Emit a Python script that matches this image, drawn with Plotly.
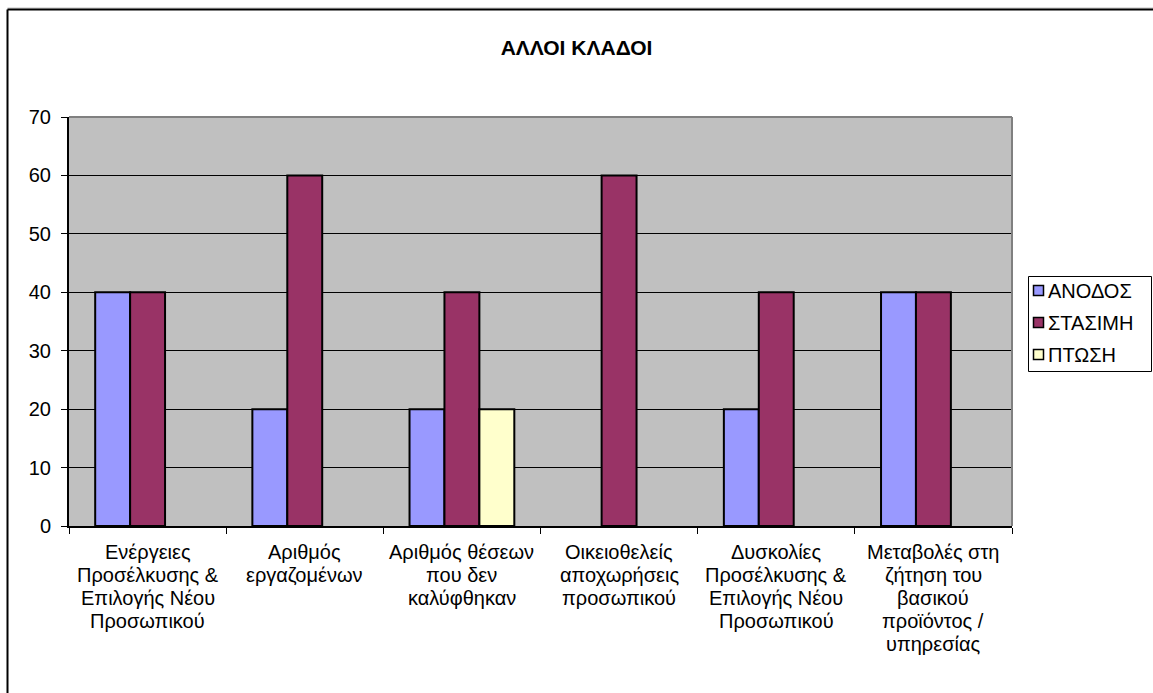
import plotly.graph_objects as go

# Categories (multi-line labels) and series values
categories = [
    "Ενέργειες<br>Προσέλκυσης &<br>Επιλογής Νέου<br>Προσωπικού",
    "Αριθμός<br>εργαζομένων",
    "Αριθμός θέσεων<br>που δεν<br>καλύφθηκαν",
    "Οικειοθελείς<br>αποχωρήσεις<br>προσωπικού",
    "Δυσκολίες<br>Προσέλκυσης &<br>Επιλογής Νέου<br>Προσωπικού",
    "Μεταβολές στη<br>ζήτηση του<br>βασικού<br>προϊόντος /<br>υπηρεσίας",
]
series_names = ["ΑΝΟΔΟΣ", "ΣΤΑΣΙΜΗ", "ΠΤΩΣΗ"]
anodos = [40, 20, 20, 0, 20, 40]
stasimi = [40, 60, 40, 60, 40, 40]
ptosi = [0, 0, 20, 0, 0, 0]
y_ticks = [0, 10, 20, 30, 40, 50, 60, 70]

colors = ["#9999FF", "#993366", "#FFFFCC"]
FONT = "Liberation Sans, Arial, sans-serif"
FS = 20

W, H = 1153, 693
ML, MR, MT, MB = 69, 141, 117, 167
PW, PH = W - ML - MR, H - MT - MB


def px_x(x):
    return (x - ML) / PW


def px_y(y):
    return (H - MB - y) / PH


fig = go.Figure()
for i, (name, vals) in enumerate(zip(series_names, [anodos, stasimi, ptosi])):
    # zero values leave an empty slot
    fig.add_trace(go.Bar(
        x=categories, y=[v if v else None for v in vals], name=name,
        marker=dict(color=colors[i], line=dict(color="black", width=2)),
        showlegend=False,
    ))

shapes = [
    # plot area top and right borders
    dict(type="line", xref="paper", yref="paper", x0=0, x1=1, y0=1, y1=1,
         line=dict(color="#808080", width=2)),
    dict(type="line", xref="paper", yref="paper", x0=1, x1=1, y0=0, y1=1,
         line=dict(color="#808080", width=2)),
    # chart frame
    dict(type="line", xref="paper", yref="paper",
         x0=px_x(7.5), x1=px_x(W + 5), y0=px_y(8), y1=px_y(8),
         line=dict(color="#C0C0C0", width=1)),
    dict(type="line", xref="paper", yref="paper",
         x0=px_x(7.5), x1=px_x(W + 5), y0=px_y(9.5), y1=px_y(9.5),
         line=dict(color="black", width=2)),
    dict(type="line", xref="paper", yref="paper",
         x0=px_x(7.5), x1=px_x(7.5), y0=px_y(9.5), y1=px_y(H + 5),
         line=dict(color="black", width=2)),
]

annotations = []

# category labels, one annotation per line for tight line spacing
for cat in categories:
    for j, line in enumerate(cat.split("<br>")):
        annotations.append(dict(text=line, xref="x", yref="paper", x=cat,
                                y=px_y(552 + 23 * j), xanchor="center", yanchor="middle",
                                showarrow=False,
                                font=dict(family=FONT, size=FS, color="black")))

# legend box beside the plot area
LX0, LX1, LY0, LY1 = 1028.5, 1151.5, 276.5, 371.5
shapes.append(dict(type="rect", xref="paper", yref="paper",
                   x0=px_x(LX0), x1=px_x(LX1), y0=px_y(LY1), y1=px_y(LY0),
                   line=dict(color="black", width=1), fillcolor="white"))
for i, name in enumerate(series_names):
    cy = 290.5 + i * 32
    shapes.append(dict(type="rect", xref="paper", yref="paper",
                       x0=px_x(1033.5), x1=px_x(1043.5),
                       y0=px_y(cy + 5), y1=px_y(cy - 5),
                       line=dict(color="black", width=1.5), fillcolor=colors[i]))
    annotations.append(dict(text=name, xref="paper", yref="paper",
                            x=px_x(1046), y=px_y(cy), xanchor="left", yanchor="middle",
                            showarrow=False, font=dict(family=FONT, size=FS, color="black")))

fig.update_layout(
    width=W, height=H,
    margin=dict(l=ML, r=MR, t=MT, b=MB, pad=0),
    paper_bgcolor="white",
    plot_bgcolor="#C0C0C0",
    barmode="group",
    bargap=1.5 / 4.5,
    bargroupgap=0,
    font=dict(family=FONT, size=FS, color="black"),
    title=dict(text="<b>ΑΛΛΟΙ ΚΛΑΔΟΙ</b>", x=0.5, xref="container",
               y=1 - 48 / H, yref="container", yanchor="middle", xanchor="center",
               font=dict(family=FONT, size=21, color="black")),
    showlegend=False,
    shapes=shapes,
    annotations=annotations,
)

fig.update_yaxes(
    range=[0, 70], tickvals=y_ticks, showgrid=True, gridcolor="black", gridwidth=1,
    showline=True, linecolor="black", linewidth=2, ticks="outside", ticklen=6,
    tickcolor="black", tickwidth=1, zeroline=False, ticklabelstandoff=6,
    tickfont=dict(family=FONT, size=FS),
)
fig.update_xaxes(
    showline=True, linecolor="black", linewidth=2, ticks="outside", ticklen=6,
    tickcolor="black", tickwidth=1, tickson="boundaries", showgrid=False,
    tickangle=0, showticklabels=False,
)

fig.write_html("out.html")
